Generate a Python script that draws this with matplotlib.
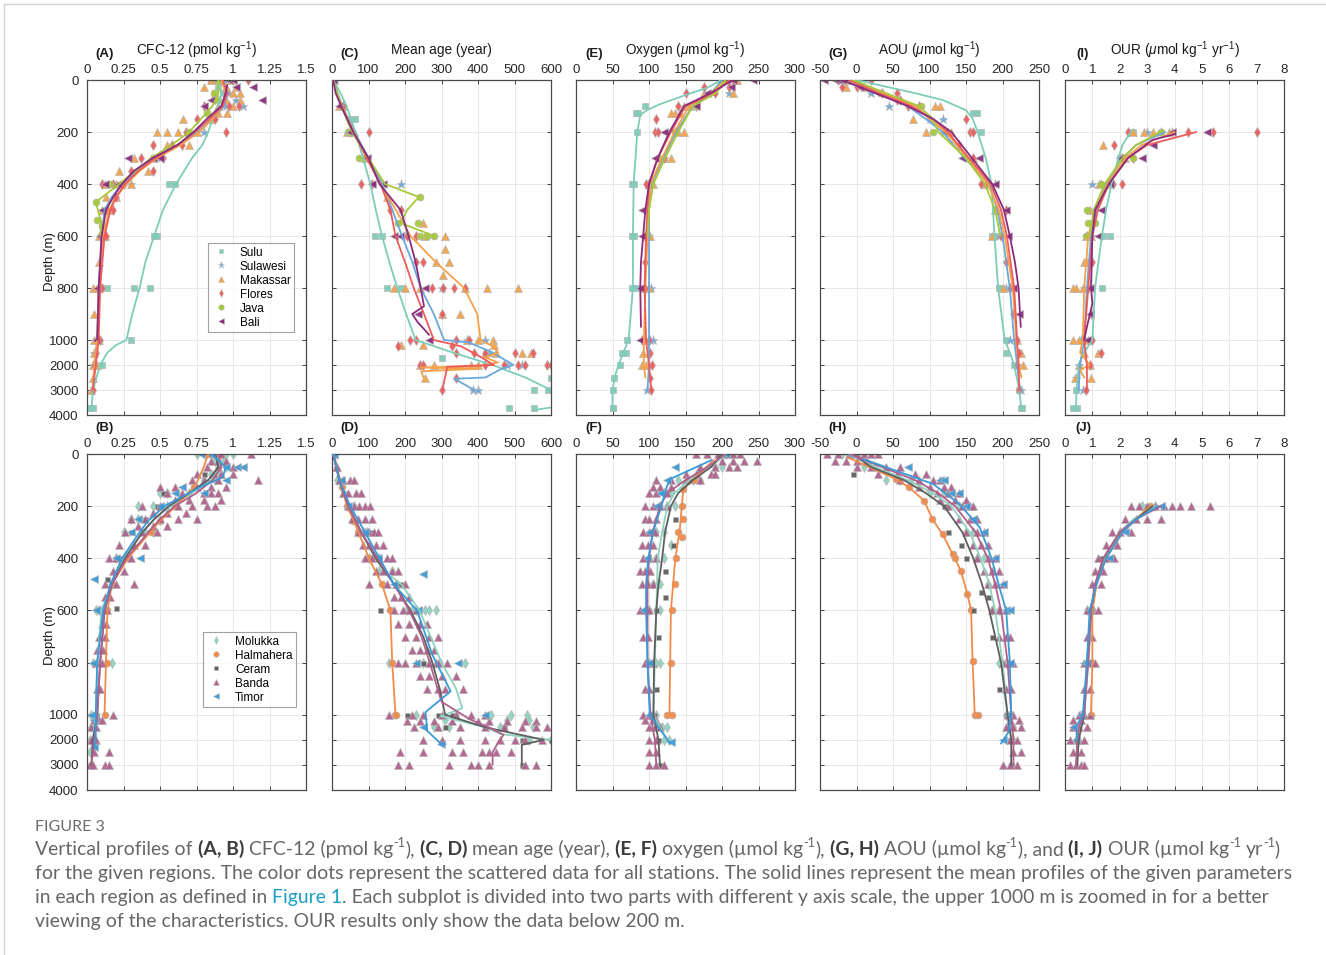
import numpy as np
import matplotlib
matplotlib.use("Agg")
import matplotlib.pyplot as plt
from matplotlib.lines import Line2D

# ------------------------------------------------------------------ data
regions_top = ["Sulu", "Sulawesi", "Makassar", "Flores", "Java", "Bali"]
regions_bot = ["Molukka", "Halmahera", "Ceram", "Banda", "Timor"]
depth_ticks = [0, 200, 400, 600, 800, 1000, 2000, 3000, 4000]

cfc_ticks = [0, 0.25, 0.5, 0.75, 1, 1.25, 1.5]
cfc_ticklabels = ["0", "0.25", "0.5", "0.75", "1", "1.25", "1.5"]
age_ticks = [0, 100, 200, 300, 400, 500, 600]
oxy_ticks = [0, 50, 100, 150, 200, 250, 300]
aou_ticks = [-50, 0, 50, 100, 150, 200, 250]
our_ticks = [0, 1, 2, 3, 4, 5, 6, 7, 8]

# mean profiles (depth, value)
cfc_top_mean = {
    "Sulu": [(0, .90), (50, .92), (100, .90), (150, .86), (200, .83), (250, .79), (300, .72), (400, .61), (500, .52), (600, .46), (700, .40), (800, .36), (900, .31), (1000, .27), (1200, .20), (1500, .14), (2000, .09), (3000, .04), (3800, .03)],
    "Sulawesi": [(0, .93), (50, .96), (100, .94), (150, .86), (200, .76), (250, .62), (300, .46), (350, .34), (400, .24), (450, .17), (500, .12), (600, .10), (800, .08), (1000, .07), (2000, .05), (3000, .04)],
    "Makassar": [(0, .92), (50, .95), (100, .93), (150, .86), (200, .77), (250, .64), (300, .48), (350, .36), (400, .27), (450, .20), (500, .15), (600, .11), (800, .08), (1000, .07), (2000, .05), (3000, .04)],
    "Flores": [(0, .93), (50, .96), (100, .93), (150, .84), (200, .74), (250, .62), (300, .47), (350, .35), (400, .26), (450, .20), (500, .16), (600, .12), (800, .09), (1000, .08), (2000, .06), (3000, .04)],
    "Java": [(0, .90), (50, .90), (100, .86), (150, .78), (200, .70), (250, .58), (300, .44), (350, .33), (400, .22), (470, .06), (550, .10), (600, .09)],
    "Bali": [(20, .96), (50, .95), (100, .92), (150, .82), (200, .73), (250, .62), (300, .45), (350, .32), (400, .24), (450, .18), (500, .13), (600, .10), (800, .08), (1000, .07)],
}
cfc_top_obs = {
    "Sulu": {0: [.85, .9, .95], 25: [.9], 50: [.93], 400: [.56, .6], 600: [.46, .48], 800: [.14, .32, .43], 1000: [.3], 2000: [.1], 3700: [.02, .04]},
    "Sulawesi": {0: [.88, .95], 50: [.97], 75: [1.02], 100: [.95, 1.07], 200: [.8], 300: [.5], 400: [.3], 600: [.1], 800: [.08], 1000: [.06], 1500: [.05], 2000: [.04]},
    "Makassar": {0: [.85, .9, .98], 25: [.8, .95, 1.02], 50: [.88, 1.0, 1.05], 75: [.95, 1.05], 100: [.9, 1.0], 125: [.9, .96], 150: [.66, .85], 200: [.48, .55, .62, .75], 250: [.55, .7], 300: [.32, .45], 350: [.22, .42], 400: [.12, .2, .3], 450: [.13, .2], 500: [.1, .16], 600: [.08, .12], 700: [.08], 800: [.04, .07], 900: [.05], 1000: [.05, .08], 1500: [.05], 2000: [.04, .07], 2500: [.04], 3000: [.03]},
    "Flores": {0: [.92, 1.0, 1.1], 50: [.95], 100: [.8, .97, 1.04], 150: [.75, .88], 200: [.68, .95], 250: [.45, .58, .65], 300: [.37, .52], 350: [.3, .45], 400: [.1, .18, .25], 450: [.2], 500: [.14, .18], 600: [.09, .13], 800: [.08, .1], 1000: [.07, .09], 1500: [.06], 2000: [.05], 3000: [.04]},
    "Java": {0: [.9, 1.0], 50: [.87], 75: [.9], 125: [.82], 200: [.7], 300: [.45], 400: [.16], 470: [.06], 540: [.07], 560: [.1]},
    "Bali": {0: [.97, 1.0], 25: [1.02, 1.14], 75: [.85, 1.2], 100: [.8], 300: [.28, .45, .5], 400: [.12, .21], 500: [.1], 600: [.09], 800: [.07], 1000: [.06]},
}

age_top_mean = {
    "Sulu": [(0, 3), (50, 23), (100, 40), (200, 64), (300, 85), (400, 105), (500, 120), (600, 137), (700, 157), (800, 179), (900, 203), (1000, 229), (1200, 270), (1500, 330), (2000, 440), (2500, 530), (3000, 600), (3400, 660), (3700, 600), (3800, 554)],
    "Sulawesi": [(0, 3), (50, 15), (100, 28), (200, 62), (300, 100), (400, 138), (500, 165), (600, 192), (700, 220), (800, 243), (900, 279), (1000, 307), (1100, 375), (1500, 440), (2000, 497), (2150, 465), (2500, 420), (2550, 335), (3000, 390)],
    "Makassar": [(0, 3), (50, 14), (100, 27), (200, 60), (300, 95), (400, 132), (500, 175), (600, 215), (700, 284), (800, 362), (900, 398), (1000, 407), (1250, 440), (1500, 455), (1700, 420), (1900, 455), (2050, 400), (2100, 243), (2150, 400), (2250, 245), (2500, 250)],
    "Flores": [(0, 3), (50, 12), (100, 26), (200, 58), (300, 95), (400, 133), (500, 160), (600, 174), (700, 200), (800, 224), (900, 252), (1000, 279), (1250, 353), (1600, 398), (2000, 444), (2070, 316), (3000, 302)],
    "Java": [(0, 3), (100, 25), (200, 55), (300, 100), (400, 145), (450, 238), (500, 206), (550, 188), (600, 280)],
    "Bali": [(0, 3), (50, 10), (100, 25), (200, 58), (300, 100), (400, 130), (500, 188), (600, 210), (700, 229), (800, 243), (870, 252), (900, 220), (930, 234), (980, 266)],
}
age_top_obs = {
    "Sulu": {0: [3, 8], 150: [50, 62], 600: [119, 137], 800: [151, 188], 1700: [302], 2500: [600], 3000: [554, 591], 3700: [485, 554]},
    "Sulawesi": {0: [3], 200: [50], 400: [190], 600: [200], 800: [300], 1000: [370, 420], 1500: [430], 2000: [480, 520], 3000: [385, 400]},
    "Makassar": {0: [3, 5], 100: [20, 30], 200: [40, 60], 300: [90], 450: [150], 550: [250], 600: [255, 310], 650: [310], 700: [285, 320], 750: [305], 800: [170, 200, 240, 365, 425, 510], 900: [300, 350], 1000: [370, 400, 440], 1200: [190, 250, 445], 1500: [420, 450, 520, 545], 2000: [240, 280, 380, 400], 2500: [255]},
    "Flores": {0: [3], 100: [30], 200: [50, 100], 400: [80, 110], 500: [160, 190], 600: [205, 230], 700: [230, 250], 800: [275, 305, 335, 365], 900: [300], 1000: [215, 230, 340, 375], 1250: [180, 330], 1500: [340, 390, 420, 500, 550], 2000: [240, 250, 420, 470, 510, 530, 590, 600], 2500: [340], 3000: [300]},
    "Java": {0: [3], 200: [45, 50], 300: [75, 90], 450: [240], 550: [180, 235], 600: [240, 260, 280]},
    "Bali": {0: [3], 100: [20], 200: [50], 300: [95], 400: [110, 140], 600: [170, 185], 800: [255], 900: [235], 1000: [265]},
}

oxy_top_mean = {
    "Sulu": [(0, 199), (30, 180), (52, 156), (93, 115), (116, 97), (135, 88), (200, 84), (400, 79), (600, 78), (800, 78), (1000, 72), (1500, 65), (2000, 58), (2500, 53), (3000, 50), (3800, 50)],
    "Sulawesi": [(0, 200), (50, 185), (100, 160), (200, 137), (300, 120), (400, 103), (500, 100), (600, 100), (800, 100), (1000, 100), (2000, 100), (3000, 98)],
    "Makassar": [(0, 205), (50, 185), (100, 155), (200, 135), (300, 118), (400, 102), (600, 98), (800, 95), (1000, 93), (2000, 93), (2500, 95)],
    "Flores": [(0, 210), (50, 190), (100, 150), (200, 130), (300, 112), (400, 100), (600, 96), (800, 94), (1000, 96), (2000, 100), (3000, 103)],
    "Java": [(0, 205), (50, 192), (100, 160), (200, 140), (300, 122), (400, 106), (500, 100), (600, 98)],
    "Bali": [(0, 215), (50, 185), (100, 148), (150, 138), (200, 128), (300, 112), (400, 100), (500, 95), (600, 92), (700, 89), (800, 88), (950, 89)],
}
oxy_top_obs = {
    "Sulu": {0: [200], 100: [95], 125: [82, 85], 200: [84], 400: [77, 80], 600: [77, 80], 800: [77, 82], 1000: [70], 1500: [63, 68], 2000: [60], 2500: [52], 3000: [50], 3700: [50, 51]},
    "Sulawesi": {0: [200, 205], 50: [210], 100: [165], 200: [135], 300: [120], 400: [98, 102], 600: [100], 800: [103], 1000: [102, 105], 2000: [100], 3000: [97]},
    "Makassar": {0: [200, 218, 220], 50: [175, 215], 100: [148, 155], 125: [130, 135, 142], 200: [140, 148], 300: [115, 120, 130], 400: [100, 105], 600: [96, 102], 800: [93, 100], 1000: [95], 1500: [92], 2000: [90, 96]},
    "Flores": {0: [210, 215], 25: [176, 210], 50: [150, 190], 100: [140, 165], 150: [110], 200: [108, 112], 300: [120], 400: [96], 600: [94], 700: [94], 800: [94], 1000: [90, 100], 1500: [102], 2000: [104], 2500: [102], 3000: [103]},
    "Java": {0: [198], 100: [165], 200: [135], 300: [113], 400: [103], 600: [97]},
    "Bali": {0: [215, 242], 25: [212], 50: [180], 100: [165], 200: [120], 300: [108], 500: [90], 600: [91], 800: [88], 1000: [88]},
}

aou_top_mean = {
    "Sulu": [(0, 0), (52, 82), (77, 118), (116, 150), (148, 159), (200, 166), (300, 177), (400, 185), (600, 189), (800, 194), (1000, 203), (1500, 210), (2000, 216), (3000, 223), (3800, 226)],
    "Sulawesi": [(0, -8), (50, 30), (100, 70), (150, 95), (200, 118), (300, 148), (400, 182), (500, 193), (600, 200), (800, 210), (1000, 216), (2000, 220), (3000, 224)],
    "Makassar": [(0, -5), (50, 35), (100, 80), (150, 100), (200, 122), (300, 152), (400, 180), (500, 195), (600, 203), (800, 214), (1000, 219), (2000, 222), (2500, 226)],
    "Flores": [(0, -10), (50, 30), (100, 75), (150, 105), (200, 125), (300, 154), (400, 184), (500, 198), (600, 206), (800, 216), (1000, 220), (2000, 222), (3000, 223)],
    "Java": [(0, -5), (50, 40), (100, 85), (150, 105), (200, 112), (300, 150), (400, 176), (500, 190), (600, 197)],
    "Bali": [(0, -20), (50, 25), (100, 70), (150, 105), (200, 130), (300, 158), (400, 186), (500, 202), (600, 210), (700, 217), (800, 222), (950, 225)],
}
aou_top_obs = {
    "Sulu": {0: [-5, 0], 125: [160, 165], 200: [170], 600: [186, 190], 800: [195, 198], 1000: [205], 1500: [205], 2000: [216], 3000: [223], 3700: [226, 227]},
    "Sulawesi": {0: [-10], 50: [20], 100: [45], 150: [100, 118], 200: [120], 400: [190], 600: [195], 800: [205], 1000: [210], 2000: [220], 3000: [225]},
    "Makassar": {0: [-15, -5], 25: [-15, 10], 100: [108, 115], 150: [78], 200: [95, 130], 300: [160], 400: [178], 500: [190], 600: [185], 800: [200], 1000: [220], 1500: [225], 2000: [228]},
    "Flores": {0: [-25, -5, 20], 25: [-20, 0], 50: [35, 55], 75: [55, 60], 100: [70, 85], 150: [150], 200: [155, 160], 250: [140], 300: [160], 400: [170, 178], 500: [205], 600: [198], 700: [205], 800: [210], 900: [215], 1000: [220], 1500: [222], 2000: [220], 3000: [222]},
    "Java": {0: [-2], 50: [32], 100: [88], 200: [105]},
    "Bali": {0: [-45, -30, -25, -20], 25: [5], 200: [120], 300: [145, 168], 400: [190], 500: [205], 600: [208], 800: [215], 900: [222]},
}

our_top_mean = {
    "Sulu": [(200, 2.4), (250, 2.1), (300, 1.95), (400, 1.7), (500, 1.5), (600, 1.35), (700, 1.22), (800, 1.1), (1000, 1.0), (1500, 0.7), (2000, 0.5), (3000, 0.42), (3800, 0.4)],
    "Sulawesi": [(200, 3.65), (250, 2.6), (300, 2.1), (400, 1.5), (500, 1.15), (600, 0.95), (800, 0.8), (1000, 0.7), (2000, 0.55), (3000, 0.5)],
    "Makassar": [(200, 4.0), (250, 2.8), (300, 2.2), (400, 1.55), (500, 1.1), (600, 0.85), (800, 0.7), (1000, 0.65), (1500, 0.55), (2000, 0.9), (2200, 0.55), (2500, 0.7)],
    "Flores": [(200, 4.8), (250, 3.0), (300, 2.3), (400, 1.6), (500, 1.2), (600, 1.0), (800, 0.85), (1000, 0.7), (2000, 0.8), (3000, 0.8)],
    "Java": [(200, 3.5), (250, 2.6), (300, 2.1), (400, 1.45), (500, 1.05), (600, 0.9)],
    "Bali": [(210, 3.95), (230, 3.2), (300, 2.3), (400, 1.6), (500, 1.1), (600, 1.0), (800, 0.95), (860, 1.0), (950, 0.8), (1000, 0.7)],
}
our_top_obs = {
    "Sulu": {200: [2.5], 300: [2.0], 400: [1.6], 600: [1.4, 1.65], 800: [1.35], 1000: [0.9], 3000: [0.4], 3700: [0.3, 0.45]},
    "Sulawesi": {200: [3.0, 3.5, 3.9], 300: [2.0], 400: [1.0, 1.3], 600: [0.95], 800: [0.7], 1000: [0.6], 2000: [0.5], 2500: [0.4], 3000: [0.65]},
    "Makassar": {200: [2.5, 2.9, 3.2, 3.8], 250: [1.4], 300: [2.2], 400: [1.25, 1.5], 500: [0.9], 600: [0.75, 0.95], 700: [0.7, 0.8], 800: [0.3, 0.4, 0.65], 1000: [0.3, 0.5, 0.85], 1500: [1.2, 0.7], 2000: [0.5, 0.9], 2500: [0.35, 0.95]},
    "Flores": {200: [2.3, 4.5, 5.4, 7.0], 250: [1.8], 300: [2.1, 2.5], 400: [1.75, 2.1], 500: [1.1], 600: [0.8], 700: [1.0], 800: [0.85], 900: [0.95], 1000: [0.7, 1.0], 1500: [1.3], 2000: [0.9], 3000: [0.75]},
    "Java": {200: [3.5], 300: [2.5], 400: [1.3], 500: [0.8], 550: [0.85, 1.1], 600: [0.75]},
    "Bali": {200: [5.2, 3.9], 250: [3.2], 300: [2.0, 2.8], 400: [1.65], 500: [1.3], 600: [1.2], 800: [0.9], 900: [0.9], 1000: [0.8]},
}

cfc_bot_mean = {
    "Molukka": [(0, .88), (50, .92), (100, .85), (150, .72), (200, .57), (250, .46), (300, .38), (400, .25), (500, .17), (600, .10), (800, .07), (1000, .06), (2000, .04)],
    "Halmahera": [(0, .83), (50, .80), (100, .76), (128, .73), (200, .61), (256, .50), (295, .44), (400, .28), (500, .17), (600, .14), (800, .13), (1000, .12), (1050, .12)],
    "Ceram": [(0, .88), (50, .90), (100, .83), (150, .70), (200, .56), (250, .46), (300, .38), (400, .26), (500, .17), (600, .12), (800, .09), (1000, .07), (2000, .04), (3000, .03)],
    "Banda": [(0, .90), (50, .92), (100, .86), (150, .75), (200, .60), (250, .50), (300, .42), (400, .27), (500, .17), (600, .12), (800, .09), (1000, .07), (2000, .05), (3000, .03)],
    "Timor": [(0, .85), (50, .95), (90, .93), (128, .77), (200, .53), (256, .42), (300, .36), (400, .24), (500, .16), (600, .11), (800, .07), (1000, .06), (2000, .06), (2300, .05)],
}
cfc_bot_obs = {
    "Molukka": {0: [.75, .8, .85, .9, .95, 1.0], 25: [.88, .93], 50: [.9, .95], 75: [.85, .9], 100: [.8, .88], 150: [.5, .55, .7], 200: [.35, .45, .55], 250: [.3, .35], 300: [.25, .4, .45], 400: [.2, .25], 500: [.17], 600: [.06, .08, .1], 800: [.04, .07, .17], 1000: [.03, .06], 1200: [.04], 1500: [.03, .05], 2000: [.02], 2500: [.02]},
    "Halmahera": {0: [.83], 128: [.73], 200: [.6], 256: [.5], 300: [.44], 400: [.28], 500: [.17], 600: [.14], 800: [.14], 1000: [.12]},
    "Ceram": {0: [.85, .9], 75: [.8], 150: [.52], 200: [.48], 250: [.4], 300: [.3], 400: [.22], 480: [.14], 590: [.2], 1000: [.06], 2000: [.03], 3000: [.02]},
    "Banda": {0: [.88, .92, 1.12], 25: [.85, .9, .95], 50: [.82, .9, 1.0], 75: [.75, .87, .92, 1.0], 100: [.72, .8, .9, 1.17], 125: [.5, .6, .75, .85, .95], 150: [.55, .65, .8, .85, .9], 175: [.6, .7, .8, .92], 200: [.38, .5, .62, .72, .82, .88], 225: [.45, .55, .68], 250: [.3, .4, .5, .62, .75], 275: [.35, .45, .55], 300: [.26, .38, .48], 350: [.22, .32, .4], 400: [.15, .2, .3], 450: [.18, .25], 500: [.12, .2, .32], 550: [.12, .16], 600: [.1, .14], 650: [.1, .13], 700: [.08, .12], 750: [.07, .11], 800: [.06, .1], 900: [.07, .09], 1000: [.06, .18], 1200: [.05, .08, .1], 1500: [.03, .06], 2000: [.03, .06], 2500: [.05, .15], 3000: [.02, .04, .12, .15]},
    "Timor": {0: [.78, .85], 50: [.95, 1.03, 1.07], 100: [.95], 125: [.65], 150: [.6, .8], 200: [.5], 250: [.35], 300: [.3], 400: [.2, .36], 480: [.05], 600: [.06], 800: [.04], 1000: [.03], 1200: [.05], 2300: [.05]},
}

age_bot_mean = {
    "Molukka": [(0, 3), (100, 20), (200, 45), (300, 80), (400, 120), (450, 145), (500, 190), (600, 240), (700, 270), (800, 300), (900, 340), (975, 357), (1060, 298), (1500, 420), (1770, 463), (2000, 600)],
    "Halmahera": [(0, 5), (128, 27), (200, 41), (256, 60), (400, 101), (500, 137), (600, 160), (800, 165), (1000, 174)],
    "Ceram": [(0, 3), (100, 20), (200, 45), (300, 80), (400, 120), (500, 170), (600, 215), (700, 250), (800, 275), (900, 295), (1000, 310), (1500, 420), (2000, 580), (2200, 520), (3000, 520)],
    "Banda": [(0, 3), (100, 20), (200, 45), (300, 80), (400, 125), (500, 170), (600, 212), (700, 245), (800, 268), (950, 300), (1200, 380), (1500, 430), (1800, 470), (2100, 455), (2500, 440), (3000, 440)],
    "Timor": [(0, 5), (100, 20), (200, 50), (300, 90), (400, 130), (474, 160), (500, 169), (600, 233), (770, 275), (910, 325), (990, 256), (1640, 261), (2150, 298)],
}
age_bot_obs = {
    "Molukka": {0: [3, 5], 100: [15], 200: [40, 60], 300: [70, 85, 95], 400: [100, 130], 450: [130, 165], 600: [205, 220, 230, 255, 265, 285], 800: [155, 250, 295, 365], 1000: [230, 340, 435, 490, 535], 1200: [310, 480, 540], 1500: [280, 320, 460, 550], 2000: [540, 600]},
    "Halmahera": {0: [5], 128: [27], 200: [41], 256: [58], 300: [72], 400: [101], 500: [137], 600: [160], 800: [165], 1000: [172, 175]},
    "Ceram": {0: [3], 150: [30], 300: [110], 500: [185], 600: [132], 800: [250], 1000: [205, 290, 330], 1500: [310, 470], 2000: [520, 600], 3000: [520]},
    "Banda": {0: [3, 5], 50: [10, 15], 100: [20, 30, 50, 60], 150: [30, 45, 65, 80], 200: [45, 60, 75, 90, 105], 250: [55, 70, 90, 110], 300: [70, 90, 100, 115, 125], 350: [85, 100, 120, 140], 400: [90, 110, 130, 150, 165], 450: [120, 140, 165, 180], 500: [100, 150, 175, 200], 550: [170, 190, 210], 600: [170, 195, 210, 230], 650: [180, 210, 240, 260], 700: [200, 230, 265, 290], 750: [220, 240, 260, 280], 800: [180, 200, 230, 265, 285, 290, 315], 850: [240, 265, 300, 340], 900: [260, 290, 310, 360], 1000: [155, 220, 250, 300, 340, 380, 420], 1250: [205, 240, 280, 330, 400, 430, 480, 530, 560], 1500: [225, 290, 350, 420, 470, 520, 560, 590], 2000: [250, 300, 350, 420, 460, 500, 530, 575], 2500: [185, 250, 330, 360, 410, 430, 450, 490], 3000: [180, 210, 320, 380, 400, 430, 530, 560]},
    "Timor": {0: [5], 100: [25], 200: [45], 300: [90], 400: [125], 460: [250], 500: [170], 600: [235], 800: [230, 345], 1000: [420], 1500: [250], 2150: [298]},
}

oxy_bot_mean = {
    "Molukka": [(0, 205), (50, 185), (100, 155), (150, 135), (200, 125), (300, 118), (400, 112), (600, 110), (800, 108), (1000, 106), (1500, 115), (2000, 125)],
    "Halmahera": [(23, 189), (96, 161), (135, 147), (200, 145), (295, 142), (400, 136), (500, 133), (600, 130), (800, 129), (1000, 128)],
    "Ceram": [(0, 200), (50, 185), (100, 160), (150, 140), (200, 130), (300, 122), (400, 118), (500, 113), (600, 110), (800, 107), (1000, 106), (2000, 113), (3000, 115)],
    "Banda": [(0, 205), (50, 180), (100, 150), (150, 125), (200, 115), (300, 105), (400, 100), (500, 98), (600, 98), (800, 98), (1000, 102), (2000, 108), (3000, 110)],
    "Timor": [(23, 186), (96, 129), (128, 124), (200, 117), (295, 106), (400, 99), (500, 96), (600, 96), (800, 98), (1000, 101), (2150, 129)],
}
oxy_bot_obs = {
    "Molukka": {0: [195, 205, 215], 50: [190, 200], 100: [140, 160, 170], 150: [120, 130], 200: [115, 125, 135], 300: [110, 120], 350: [130], 400: [100, 110, 120], 500: [105, 115], 600: [100, 110, 115], 800: [100, 110, 115], 1000: [105, 110], 1500: [118, 125], 2000: [120, 128]},
    "Halmahera": {0: [200], 100: [161], 135: [147], 200: [145], 250: [147], 300: [140], 320: [145], 400: [137], 500: [135], 600: [131], 800: [130], 1000: [125, 132]},
    "Ceram": {0: [200], 100: [155], 250: [135], 350: [133], 450: [122], 550: [122], 600: [110], 700: [112], 900: [110], 1000: [107], 1500: [113], 2000: [113], 3000: [115]},
    "Banda": {0: [165, 180, 195, 205, 215, 225], 25: [200, 215, 230, 248], 50: [170, 190, 210, 220], 75: [150, 165, 185, 190], 100: [110, 130, 150, 170], 125: [105, 115, 130], 150: [100, 110, 125], 200: [95, 105, 115, 125], 250: [95, 100, 110], 300: [92, 100, 108], 350: [90, 98, 105], 400: [92, 100, 110], 450: [88, 95, 102], 500: [90, 98, 105], 600: [88, 95, 100], 700: [92, 98], 800: [95, 100, 105], 900: [95, 100], 1000: [92, 100, 105], 1200: [95, 105, 110], 1500: [100, 108, 115], 2000: [100, 110], 2500: [100, 110], 3000: [100, 110, 120]},
    "Timor": {0: [200, 205], 50: [135], 100: [125], 150: [115], 200: [110], 300: [100], 400: [97], 600: [92], 800: [100], 1000: [100], 2100: [130]},
}

aou_bot_mean = {
    "Molukka": [(0, -10), (50, 25), (100, 70), (150, 105), (200, 130), (300, 155), (400, 170), (500, 182), (600, 190), (800, 200), (1000, 207), (1500, 210), (2000, 212)],
    "Halmahera": [(13, -12), (96, 54), (128, 72), (180, 93), (250, 104), (308, 118), (385, 132), (449, 143), (538, 152), (600, 157), (795, 159), (1000, 162)],
    "Ceram": [(0, -5), (50, 20), (100, 65), (150, 95), (200, 120), (300, 145), (400, 160), (500, 172), (600, 182), (800, 198), (1000, 207), (2000, 212), (3000, 212)],
    "Banda": [(0, -10), (50, 35), (100, 80), (150, 112), (200, 135), (300, 163), (400, 180), (500, 190), (600, 198), (800, 207), (1000, 212), (2000, 215), (3000, 215)],
    "Timor": [(19, 9), (64, 54), (115, 105), (192, 141), (282, 169), (400, 185), (513, 196), (600, 205), (795, 210), (1000, 212), (1700, 208), (2150, 198)],
}
aou_bot_obs = {
    "Molukka": {0: [-20, -10, -5, 0], 50: [10, 25], 100: [40, 60, 75], 150: [100, 120], 200: [125, 140], 300: [150, 160], 400: [165, 175], 500: [180], 600: [185, 195], 800: [195, 205], 1000: [205, 210], 1500: [208, 215], 2000: [215]},
    "Halmahera": {96: [54], 128: [72], 180: [93], 250: [104], 308: [118], 385: [132], 400: [135], 449: [143], 538: [152], 600: [157], 795: [159], 1000: [162, 166]},
    "Ceram": {0: [-5], 75: [-5], 200: [120], 300: [125], 350: [143], 400: [150], 530: [170], 550: [180], 600: [160], 700: [185], 900: [195], 1000: [205], 2000: [210], 3000: [212]},
    "Banda": {0: [-40, -25, -10, 0, 10, 20, 30], 25: [-30, -15, 0, 15], 50: [0, 20, 40, 60], 75: [30, 55, 80, 95], 100: [60, 85, 105, 115], 125: [85, 100, 120, 130], 150: [110, 125, 140], 175: [115, 135, 150], 200: [125, 145, 155, 160], 250: [140, 155, 165], 300: [150, 165, 175], 350: [160, 170, 180], 400: [165, 180, 190], 450: [175, 185, 195], 500: [180, 190, 200], 600: [185, 195, 205], 700: [195, 205, 210], 800: [200, 208, 215], 900: [205, 212], 1000: [208, 215], 1200: [210, 222], 1500: [205, 215, 225], 2000: [210, 220], 2500: [215, 225], 3000: [200, 210, 220]},
    "Timor": {0: [-10, -5], 50: [70], 100: [115, 120], 150: [130, 140], 200: [150], 250: [160], 300: [175], 400: [190], 500: [200], 600: [205, 210], 800: [210], 1000: [208], 2000: [200]},
}

our_bot_mean = {
    "Molukka": [(200, 3.3), (250, 2.5), (300, 2.0), (400, 1.45), (500, 1.15), (600, 1.0), (800, 0.85), (1000, 0.7), (1500, 0.5), (2000, 0.45)],
    "Halmahera": [(200, 3.1), (300, 2.1), (400, 1.5), (500, 1.15), (600, 1.0), (800, 1.0), (1000, 0.95)],
    "Ceram": [(200, 3.2), (300, 2.0), (400, 1.4), (500, 1.1), (600, 0.95), (800, 0.8), (1000, 0.7), (2000, 0.5), (3000, 0.45)],
    "Banda": [(200, 3.5), (250, 2.6), (300, 2.0), (400, 1.4), (500, 1.1), (600, 0.95), (800, 0.85), (1000, 0.7), (1500, 0.5), (2000, 0.45), (3000, 0.4)],
    "Timor": [(200, 3.4), (250, 2.6), (300, 2.1), (400, 1.5), (500, 1.15), (600, 0.9), (800, 0.8), (1000, 0.65), (1500, 0.4), (2000, 0.45)],
}
our_bot_obs = {
    "Molukka": {200: [2.8, 3.3], 300: [2.0], 400: [1.5], 600: [0.8, 1.0], 800: [0.8, 1.0], 1000: [0.6], 1500: [0.4], 2000: [0.4]},
    "Halmahera": {200: [3.1], 400: [1.5], 600: [1.0], 800: [1.0], 1000: [0.95]},
    "Ceram": {200: [3.0], 400: [1.3], 600: [0.9], 1000: [0.6], 2000: [0.4]},
    "Banda": {200: [2.4, 2.7, 3.0, 3.3, 3.6, 3.9, 4.2, 4.6, 5.3], 250: [2.2, 2.6, 3.0, 3.5], 300: [1.7, 2.0, 2.4], 350: [1.5, 1.9], 400: [1.2, 1.5, 1.8], 450: [1.1, 1.4], 500: [1.0, 1.3], 600: [0.8, 1.0, 1.2], 700: [0.8, 1.0], 800: [0.7, 0.9, 1.1], 900: [0.7, 0.9], 1000: [0.5, 0.7, 0.9], 1200: [0.3, 0.6], 1500: [0.3, 0.5, 0.8], 2000: [0.2, 0.5, 0.7], 2500: [0.3, 0.6], 3000: [0.2, 0.4, 0.6, 0.7]},
    "Timor": {200: [3.5], 300: [2.2], 400: [1.6], 600: [0.9], 800: [0.7, 0.8], 1000: [0.6], 1500: [0.3], 2000: [0.4]},
}

caption_head = "FIGURE 3"
caption_lines = [
    [("Vertical profiles of ", "n"), ("(A, B)", "b"), (" CFC-12 (pmol kg", "n"), ("-1", "s"), ("), ", "n"),
     ("(C, D)", "b"), (" mean age (year), ", "n"), ("(E, F)", "b"), (" oxygen (\u00b5mol kg", "n"), ("-1", "s"),
     ("), ", "n"), ("(G, H)", "b"), (" AOU (\u00b5mol kg", "n"), ("-1", "s"), ("), and ", "n"), ("(I, J)", "b"),
     (" OUR (\u00b5mol kg", "n"), ("-1", "s"), (" yr", "n"), ("-1", "s"), (")", "n")],
    [("for the given regions. The color dots represent the scattered data for all stations. The solid lines represent the mean profiles of the given parameters", "n")],
    [("in each region as defined in ", "n"), ("Figure 1", "l"),
     (". Each subplot is divided into two parts with different y axis scale, the upper 1000 m is zoomed in for a better", "n")],
    [("viewing of the characteristics. OUR results only show the data below 200 m.", "n")],
]
caption_line_ends = [1292, 1290, 1265]

# ------------------------------------------------------------------ styles
style = {
    "Sulu": ("#7dcdb9", "s", 4.4),
    "Sulawesi": ("#6aa8dc", "*", 6.5),
    "Makassar": ("#f4a24a", "^", 5.6),
    "Flores": ("#ee5b5b", "d", 5.2),
    "Java": ("#a6c93a", "o", 5.0),
    "Bali": ("#8b2c7d", "<", 5.2),
    "Molukka": ("#8ed2bf", "d", 5.2),
    "Halmahera": ("#f28a4a", "o", 5.0),
    "Ceram": ("#5f5f5f", "s", 3.6),
    "Banda": ("#b0608c", "^", 5.4),
    "Timor": ("#3a9ad9", "<", 5.2),
}

plt.rcParams["font.family"] = ["Liberation Sans", "DejaVu Sans"]
plt.rcParams["mathtext.fontset"] = "custom"
plt.rcParams["mathtext.rm"] = "Liberation Sans"
plt.rcParams["mathtext.it"] = "Liberation Sans:italic"
plt.rcParams["mathtext.bf"] = "Liberation Sans:bold"

W, H = 1326, 955
fig = plt.figure(figsize=(W / 100, H / 100), dpi=100)
fig.patch.set_facecolor("white")

K = 25.0 / 260.0


def fwd(d):
    d = np.asarray(d, dtype=float)
    return np.where(d <= 1000, d, 1000 + (d - 1000) * K)


def inv(y):
    y = np.asarray(y, dtype=float)
    return np.where(y <= 1000, y, 1000 + (y - 1000) / K)


col_x = [87, 332, 576, 820, 1065]
ax_w = 219
rows_y = [(80, 415), (454, 790)]

panels = [
    ("(A)", "CFC-12 (pmol kg$^{-1}$)", cfc_ticks, cfc_ticklabels, (0, 1.5), cfc_top_mean, cfc_top_obs, 0, 0),
    ("(C)", "Mean age (year)", age_ticks, None, (0, 600), age_top_mean, age_top_obs, 0, 1),
    ("(E)", "Oxygen ($\\mu$mol kg$^{-1}$)", oxy_ticks, None, (0, 300), oxy_top_mean, oxy_top_obs, 0, 2),
    ("(G)", "AOU ($\\mu$mol kg$^{-1}$)", aou_ticks, None, (-50, 250), aou_top_mean, aou_top_obs, 0, 3),
    ("(I)", "OUR ($\\mu$mol kg$^{-1}$ yr$^{-1}$)", our_ticks, None, (0, 8), our_top_mean, our_top_obs, 0, 4),
    ("(B)", None, cfc_ticks, cfc_ticklabels, (0, 1.5), cfc_bot_mean, cfc_bot_obs, 1, 0),
    ("(D)", None, age_ticks, None, (0, 600), age_bot_mean, age_bot_obs, 1, 1),
    ("(F)", None, oxy_ticks, None, (0, 300), oxy_bot_mean, oxy_bot_obs, 1, 2),
    ("(H)", None, aou_ticks, None, (-50, 250), aou_bot_mean, aou_bot_obs, 1, 3),
    ("(J)", None, our_ticks, None, (0, 8), our_bot_mean, our_bot_obs, 1, 4),
]

tick_color = "#262626"
for letter, title, ticks, tlabels, xlim, mean, obs, r, c in panels:
    y0, y1 = rows_y[r]
    x0 = col_x[c]
    ax = fig.add_axes([x0 / W, 1 - y1 / H, ax_w / W, (y1 - y0) / H])
    ax.set_yscale("function", functions=(fwd, inv))
    ax.set_ylim(4000, 0)
    ax.set_xlim(*xlim)
    ax.set_xticks(ticks)
    ax.set_xticklabels(tlabels if tlabels else [str(t) for t in ticks])
    ax.set_yticks(depth_ticks)
    ax.set_yticklabels([str(t) for t in depth_ticks] if c == 0 else [])
    ax.minorticks_off()
    ax.tick_params(axis="both", direction="in", length=3, width=0.6, colors=tick_color,
                   labelsize=9.5, top=True, bottom=True, left=True, right=True,
                   labeltop=True, labelbottom=False)
    ax.tick_params(axis="x", pad=3)
    ax.tick_params(axis="y", pad=6)
    ax.grid(True, color="#e4e4e4", linewidth=0.6)
    ax.set_axisbelow(True)
    for sp in ax.spines.values():
        sp.set_color("#4a4a4a")
        sp.set_linewidth(0.9)

    regs = regions_top if r == 0 else regions_bot
    for reg in regs:
        col, mk, ms = style[reg]
        o = obs.get(reg, {})
        zz, vv = [], []
        for z, vals in o.items():
            for v in vals:
                zz.append(z)
                vv.append(v)
        ax.plot(vv, zz, linestyle="none", marker=mk, markersize=ms, color=col,
                markeredgecolor="#b4b4b4", markeredgewidth=0.5, alpha=0.95, zorder=2)
    for reg in regs:
        col = style[reg][0]
        prof = mean.get(reg, [])
        if prof:
            z = [p[0] for p in prof]
            v = [p[1] for p in prof]
            ax.plot(v, z, color=col, linewidth=1.3, zorder=3, solid_capstyle="round")

    ax.text(0.082, 1.0 + 26.0 / (y1 - y0), letter, transform=ax.transAxes, ha="center",
            va="center", fontsize=9.5, fontweight="bold", color="#1a1a1a")
    if title:
        ax.text(0.5, 1.0 + 30.0 / (y1 - y0), title, transform=ax.transAxes, ha="center",
                va="center", fontsize=9.8, color="#1a1a1a")

    if c == 0:
        handles = [Line2D([], [], linestyle="none", marker=style[g][1], markersize=style[g][2] * 0.8,
                          color=style[g][0], markeredgecolor="#c0c0c0", markeredgewidth=0.4)
                   for g in regs]
        if r == 0:
            anchor = ((208 - x0) / ax_w, 1 - (243 - y0) / (y1 - y0))
        else:
            anchor = ((203 - x0) / ax_w, 1 - (632 - y0) / (y1 - y0))
        leg = ax.legend(handles, regs, loc="upper left", bbox_to_anchor=anchor, borderaxespad=0,
                        fontsize=8.5, frameon=True, fancybox=False, edgecolor="#8a8a8a",
                        handlelength=1.6, handletextpad=0.8, labelspacing=0.17, borderpad=0.3)
        leg.get_frame().set_linewidth(0.8)
        leg.set_zorder(10)

for yc in (262, 636):
    fig.text(50 / W, 1 - yc / H, "Depth (m)", rotation=90, ha="center", va="center",
             fontsize=9.5, color="#1a1a1a")

# frame lines of the page
fig.add_artist(Line2D([4 / W, 1], [1 - 4 / H, 1 - 4 / H], color="#d2d2d2", linewidth=1.0))
fig.add_artist(Line2D([4 / W, 4 / W], [0, 1 - 4 / H], color="#d2d2d2", linewidth=1.0))

# ------------------------------------------------------------------ caption
renderer = fig.canvas.get_renderer()
cap_font = ["Lato", "DejaVu Sans"]
cap_color = "#666666"


def _w(s, **kw):
    t = fig.text(0, 0, s, **kw)
    w = t.get_window_extent(renderer).width
    t.remove()
    return w


def rich_line(x0, ybase, segs, fs, draw=True):
    x = x0
    base = dict(family=cap_font, fontsize=fs)
    sp = _w("a a", **base) - _w("aa", **base)
    for s, kind in segs:
        kw = dict(base)
        color = cap_color
        dy = 0.0
        if kind == "b":
            kw["weight"] = "bold"
            color = "#3c3c3c"
        elif kind == "s":
            kw["fontsize"] = fs * 0.66
            dy = fs * 1.389 * 0.42
        elif kind == "l":
            color = "#1aa0c2"
        lead = len(s) - len(s.lstrip(" "))
        trail = len(s) - len(s.rstrip(" "))
        core = s.strip(" ")
        x += lead * sp
        if core:
            t = fig.text(x / W, 1 - (ybase - dy) / H, core, color=color, ha="left",
                         va="baseline", **kw)
            x += t.get_window_extent(renderer).width
            if not draw:
                t.remove()
        x += trail * sp
    return x - x0


ratios = []
for segs, xend in zip(caption_lines[:3], caption_line_ends):
    wn = rich_line(35, 855, segs, 12, draw=False)
    ratios.append((xend - 35) / wn)
cap_fs = 12 * min(ratios)
fig.text(35 / W, 1 - 831 / H, caption_head, family=cap_font, fontsize=11.5, color="#6a6a6a",
         ha="left", va="baseline")
for i, segs in enumerate(caption_lines):
    rich_line(35, 855 + 24 * i, segs, cap_fs)

fig.savefig("out.png", dpi=100, facecolor="white")
